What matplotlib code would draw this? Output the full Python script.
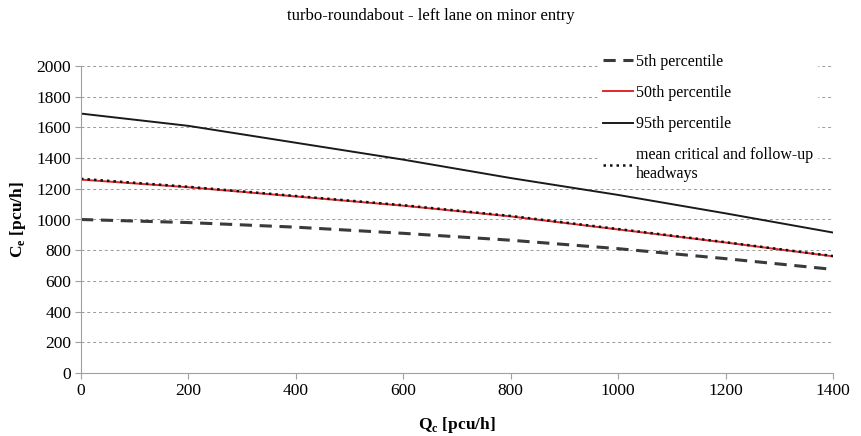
import matplotlib
matplotlib.use("Agg")
import matplotlib.pyplot as plt

plt.rcParams['font.family'] = ['Liberation Serif', 'DejaVu Serif']

qc = [0, 200, 400, 600, 800, 1000, 1200, 1400]
p5 = [1000, 980, 950, 910, 865, 810, 745, 675]
p50 = [1260, 1210, 1150, 1090, 1020, 935, 850, 760]
p95 = [1690, 1610, 1500, 1390, 1270, 1160, 1040, 915]
mean_h = [1265, 1213, 1153, 1093, 1023, 938, 852, 762]

fig = plt.figure(figsize=(8.62, 4.36), dpi=100)
ax = fig.add_axes([81/862, 1-373/436, (833-81)/862, (373-66)/436])

ax.plot(qc, p5, color='#3a3a3a', lw=2.2, ls=(0, (4, 2.5)), label='5th percentile')
ax.plot(qc, p50, color='#e0282a', lw=1.4, label='50th percentile')
ax.plot(qc, p95, color='#1a1a1a', lw=1.4, label='95th percentile')
ax.plot(qc, mean_h, color='#111111', lw=1.8, ls=(0, (1, 1.6)), label='mean critical and follow-up\nheadways')

ax.set_xlim(0, 1400)
ax.set_ylim(0, 2000)
ax.set_xticks(range(0, 1401, 200))
ax.set_yticks(range(0, 2001, 200))
ax.yaxis.grid(True, ls=(0, (3, 3)), color='#999999', lw=0.7)
ax.set_axisbelow(True)
for s in ['top', 'right']:
    ax.spines[s].set_visible(False)
for s in ['left', 'bottom']:
    ax.spines[s].set_color('#a0a0a0')
ax.tick_params(axis='both', colors='#a0a0a0', labelcolor='black', labelsize=12.5, direction='out', length=4)
ax.tick_params(axis='y', pad=3)
ax.tick_params(axis='x', pad=3)

ax.set_xlabel('Q$_\\mathregular{c}$ [pcu/h]', fontsize=12.5, fontweight='bold', labelpad=12)
ax.set_ylabel('C$_\\mathregular{e}$ [pcu/h]', fontsize=12.5, fontweight='bold', labelpad=6)
fig.text(0.5, 1-16/436, 'turbo-roundabout - left lane on minor entry', ha='center', va='center', fontsize=12)

leg = ax.legend(loc='upper left', bbox_to_anchor=(590/862, 1-41/436), bbox_transform=fig.transFigure,
                frameon=True, fontsize=11.5, labelspacing=0.95, handlelength=1.9, handletextpad=0.15,
                borderpad=0.3, fancybox=False)
leg.get_frame().set_edgecolor('white')
leg.get_frame().set_facecolor('white')
leg.get_frame().set_alpha(1)

fig.savefig('out.png', dpi=100)
